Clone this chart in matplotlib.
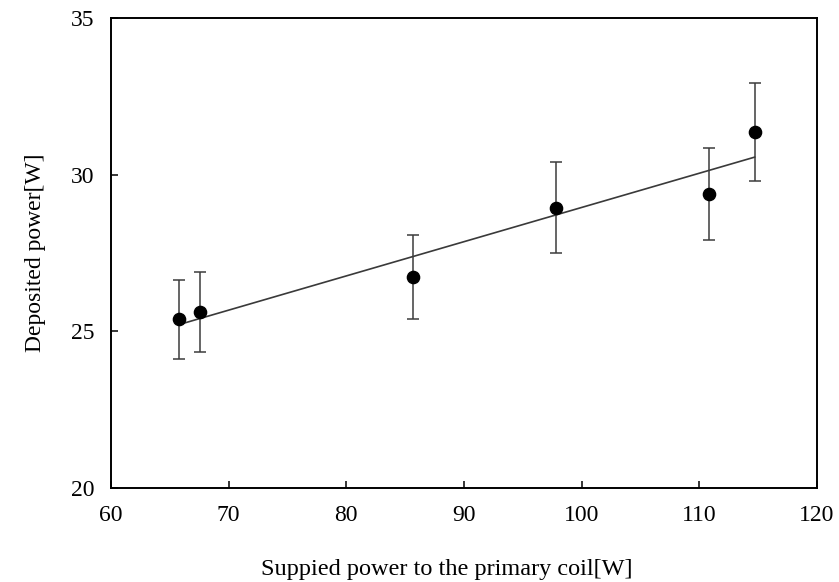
import numpy as np
import matplotlib
matplotlib.use("Agg")
import matplotlib.pyplot as plt

# Supplied power to the primary coil [W]
supplied_power = [65.8, 67.6, 85.7, 97.8, 110.8, 114.7]
# Deposited power [W] and its uncertainty
deposited_power = [25.39, 25.62, 26.73, 28.95, 29.38, 31.36]
deposited_err = [1.26, 1.28, 1.34, 1.44, 1.47, 1.56]

x_ticks = [60, 70, 80, 90, 100, 110, 120]
y_ticks = [20, 25, 30, 35]

plt.rcParams["font.family"] = ["Liberation Serif", "DejaVu Serif"]

fig = plt.figure(figsize=(8.39, 5.82), dpi=100)
ax = fig.add_axes([111 / 839, 1 - 488 / 582, (817 - 111) / 839, (488 - 18) / 582])

# Linear least-squares trend over the measured range
x = np.array(supplied_power)
y = np.array(deposited_power)
slope, intercept = np.polyfit(x, y, 1)
xf = np.array([x.min(), x.max()])
ax.plot(xf, slope * xf + intercept, color="#3a3a3a", lw=1.2, zorder=2)

ax.errorbar(supplied_power, deposited_power, yerr=deposited_err,
            fmt="o", color="black", ms=8.8, ecolor="#3c3c3c",
            elinewidth=1.1, capsize=4, capthick=1.1, zorder=3)

ax.set_xlim(60, 120)
ax.set_ylim(20, 35)
ax.set_xticks(x_ticks)
ax.set_yticks(y_ticks)
ax.tick_params(direction="in", length=5, width=1.1, labelsize=17,
               top=False, right=False, pad=12)
for s in ax.spines.values():
    s.set_linewidth(1.4)

ax.set_xlabel("Suppied power to the primary coil[W]", fontsize=17.5)
ax.xaxis.set_label_coords(0.476, -0.15)
ax.set_ylabel("Deposited power[W]", fontsize=17, labelpad=18)

fig.savefig("out.png", dpi=100)
